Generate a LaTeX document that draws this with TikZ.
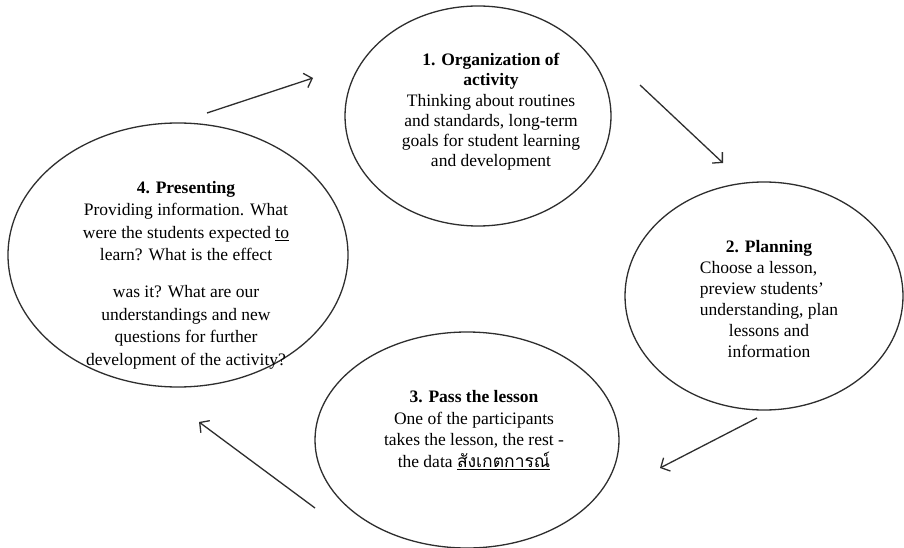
\documentclass[tikz,border=0pt]{standalone}
\usepackage{fontspec}
\setmainfont{Liberation Serif}
\newfontfamily\thaifont[Script=Thai]{Loma}
\usetikzlibrary{shapes.geometric,arrows.meta}
\definecolor{ink}{HTML}{2E2E2E}
\newlength{\planw}
\tikzset{
  stage/.style={draw=ink, line width=1.3pt, ellipse, inner sep=0pt},
  label/.style={align=center, text=black, inner sep=0pt},
  flow/.style={draw=ink, line width=1.3pt, -{Straight Barb[length=7pt,width=15pt,line width=1.3pt]}}
}
\begin{document}
\begin{tikzpicture}[x=1pt,y=-1pt]
\useasboundingbox[fill=white] (0,0) rectangle (904,548);
% ellipses
\node[stage, minimum width=266pt, minimum height=220pt] (e1) at (478,116) {};
\node[stage, minimum width=278pt, minimum height=228pt] (e2) at (764,296) {};
\node[stage, minimum width=304pt, minimum height=216pt] (e3) at (467,440) {};
\node[stage, minimum width=340pt, minimum height=264pt] (e4) at (178,255) {};
% texts
\node[label, font=\fontsize{17.5}{20.2}\selectfont] (t1) at (491,112) {\textbf{1. Organization of}\\\textbf{activity}\\Thinking about routines\\and standards, long-term\\goals for student learning\\and development};
\node[label, font=\fontsize{17.5}{21}\selectfont] (t2) at (769,299) {\settowidth{\planw}{understanding, plan}\global\planw=\planw\textbf{2. Planning}\\\makebox[\planw][l]{Choose a lesson,}\\\makebox[\planw][l]{preview students'}\\understanding, plan\\lessons and\\information};
\node[label, font=\fontsize{17.5}{21.7}\selectfont] (t3) at (474,430) {\textbf{3. Pass the lesson}\\One of the participants\\takes the lesson, the rest -\\the data \underline{\thaifont สังเกตการณ์}};
\node[label, font=\fontsize{17.5}{22.5}\selectfont] (t4) at (186,275) {\textbf{4. Presenting}\\Providing information. What\\were the students expected \underline{to}\\learn? What is the effect\\[14.5pt]was it? What are our\\understandings and new\\questions for further\\development of the activity?};
% arrow ends
\coordinate (a1s) at (207,113); \coordinate (a1e) at (313,78);
\coordinate (a2s) at (640,85);  \coordinate (a2e) at (723,163);
\coordinate (a3s) at (757,418); \coordinate (a3e) at (660,468);
\coordinate (a4s) at (315,508); \coordinate (a4e) at (199,422);
\draw[flow] (a1s) -- (a1e);
\draw[flow] (a2s) -- (a2e);
\draw[flow] (a3s) -- (a3e);
\draw[flow] (a4s) -- (a4e);
\end{tikzpicture}
\end{document}
